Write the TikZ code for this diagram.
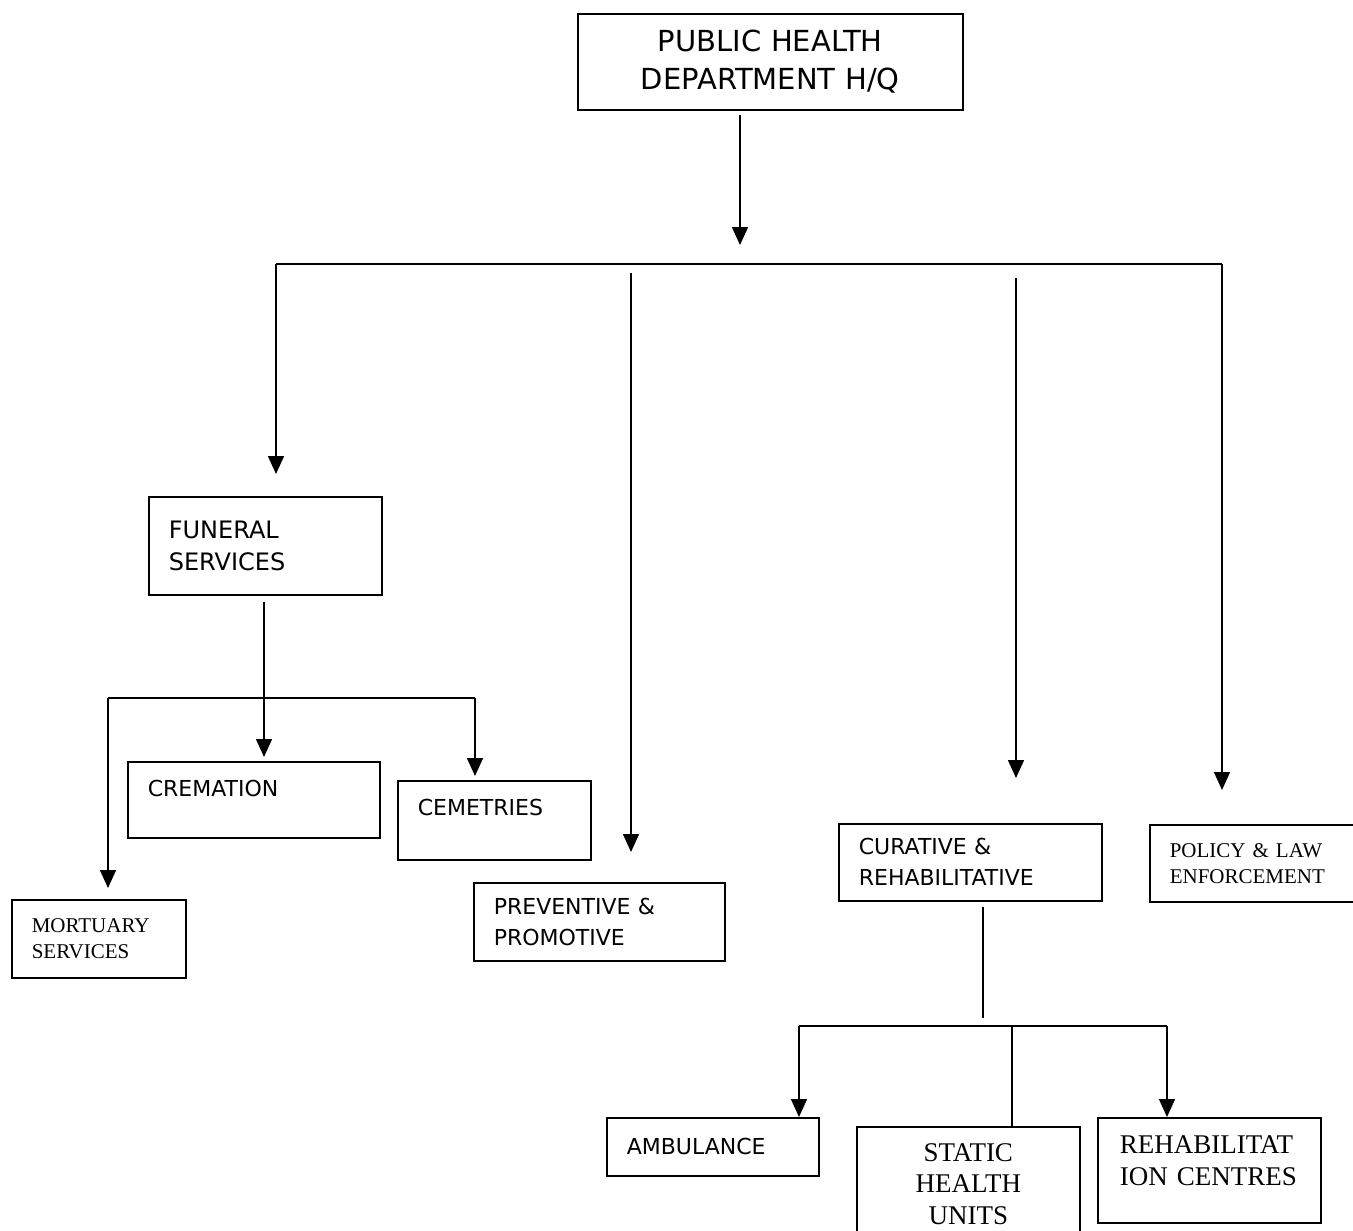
\documentclass[tikz,border=0pt]{standalone}
\usepackage{fontspec}
\setmainfont{DejaVu Sans}
\newfontfamily\tnr{Liberation Serif}
\usetikzlibrary{arrows.meta,positioning,calc}

\begin{document}
\begin{tikzpicture}[x=1pt,y=-1pt,>={Triangle[width=16pt,length=18pt]},line width=1.6pt,
  unit/.style={draw,anchor=north west,align=left,inner xsep=20pt,inner ysep=0pt,font=\fontsize{22}{31}\selectfont},
  serif/.style={font=\tnr\fontsize{21}{26}\selectfont},
  bigserif/.style={font=\tnr\fontsize{27}{31.5}\selectfont}]
 \useasboundingbox (0,0) rectangle (1353,1231);
 \node[unit,align=center,text width=345pt,minimum height=96pt,font=\fontsize{29}{38}\selectfont] (hq) at (577,13) {PUBLIC HEALTH\\DEPARTMENT H/Q};
 \node[unit,text width=193pt,minimum height=98pt,font=\fontsize{24}{32}\selectfont] (funeral) at (148,496) {FUNERAL\\SERVICES};
 \node[unit,text width=212pt,text height=35pt,text depth=41pt] (cremation) at (127,761) {CREMATION};
 \node[unit,text width=153pt,text height=35pt,text depth=44pt] (cemetries) at (397,780) {CEMETRIES};
 \node[unit,serif,text width=134pt,minimum height=78pt] (mortuary) at (11,899) {MORTUARY\\SERVICES};
 \node[unit,text width=211pt,minimum height=78pt] (preventive) at (473,882) {PREVENTIVE \&\\PROMOTIVE};
 \node[unit,text width=223pt,minimum height=77pt] (curative) at (838,823) {CURATIVE \&\\REHABILITATIVE};
 \node[unit,serif,text width=181pt,minimum height=77pt] (policy) at (1149,824) {POLICY \& LAW\\ENFORCEMENT};
 \node[unit,text width=172pt,minimum height=58pt] (ambulance) at (606,1117) {AMBULANCE};
 \node[unit,bigserif,align=center,text width=183pt,minimum height=114pt] (static) at (856,1126) {STATIC\\HEALTH\\UNITS};
 \node[unit,bigserif,inner xsep=22pt,text width=179pt,text height=36pt,text depth=69pt] (rehab) at (1097,1117) {REHABILITAT\\ION CENTRES};

 \coordinate (hqtip) at (740,245);
 \draw[->,shorten <=4pt] (hq.south -| hqtip) -- (hqtip);
 \coordinate (busL) at (276,264);
 \coordinate (busR) at (1222,264);
 \draw (busL) -- (busR);
 \draw[->,shorten >=22pt] (busL) -- (busL |- funeral.north);
 \draw[->,shorten >=34pt] (busR) -- (busR |- policy.north);
 \coordinate (prevtop) at (631,273);
 \draw[->,shorten >=30pt] (prevtop) -- (prevtop |- preventive.north);
 \coordinate (curtop) at (1016,278);
 \draw[->,shorten >=45pt] (curtop) -- (curtop |- curative.north);

 \coordinate (fj) at (264,698);
 \coordinate (fbusL) at (108,698);
 \coordinate (fbusR) at (475,698);
 \draw[shorten <=6pt] (funeral.south -| fj) -- (fj);
 \draw (fbusL) -- (fbusR);
 \draw[->,shorten >=4pt] (fj) -- (fj |- cremation.north);
 \draw[->,shorten >=11pt] (fbusL) -- (fbusL |- mortuary.north);
 \draw[->,shorten >=4pt] (fbusR) -- (fbusR |- cemetries.north);

 \coordinate (cj) at (983,1026);
 \coordinate (cbusL) at (799,1026);
 \coordinate (cbusM) at (1012,1026);
 \coordinate (cbusR) at (1167,1026);
 \draw[shorten <=5pt,shorten >=8pt] (curative.south -| cj) -- (cj);
 \draw (cbusL) -- (cbusR);
 \draw[->] (cbusL) -- (cbusL |- ambulance.north);
 \draw (cbusM) -- (cbusM |- static.north);
 \draw[->] (cbusR) -- (cbusR |- rehab.north);
\end{tikzpicture}
\end{document}
